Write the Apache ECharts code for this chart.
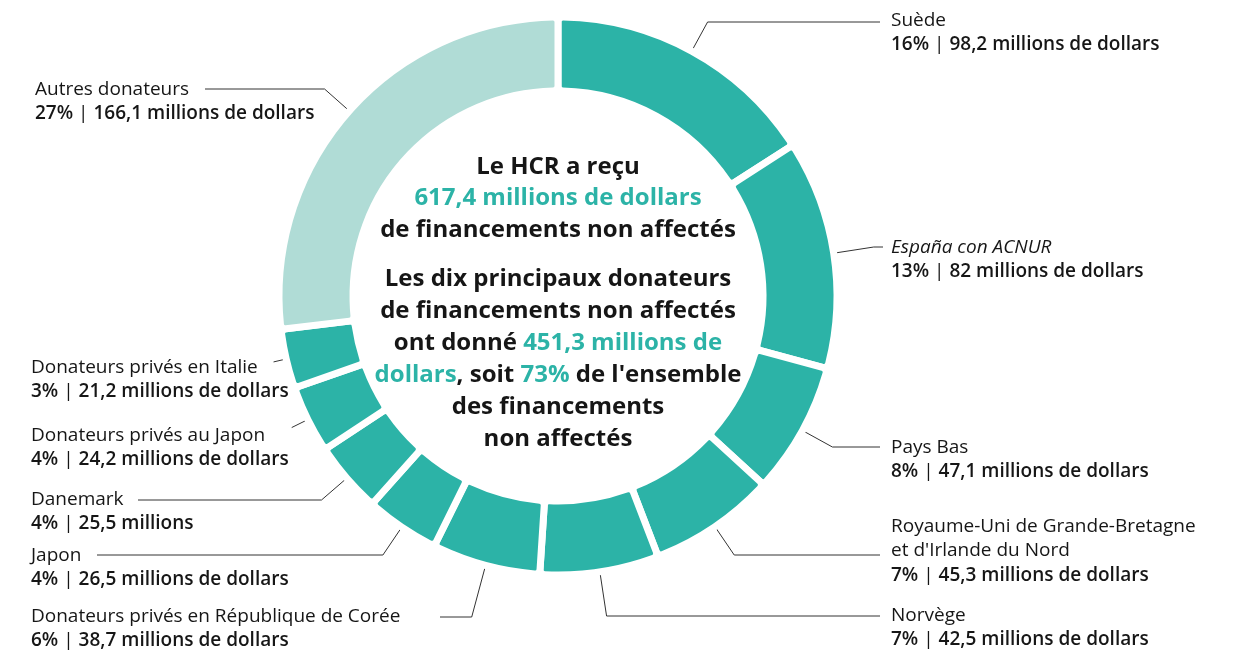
<!DOCTYPE html>
<html>
<head>
<meta charset="utf-8">
<script src="https://cdn.jsdelivr.net/npm/echarts@6/dist/echarts.min.js"></script>
<style>
  html, body { margin: 0; padding: 0; background: #fff; }
  #chart { width: 1256px; height: 651px; }
</style>
</head>
<body>
<div id="chart"></div>
<script>
// donors, clockwise from the top
const donors = [
  'Suède',
  'España con ACNUR',
  'Pays Bas',
  'Royaume-Uni de Grande-Bretagne\net d\'Irlande du Nord',
  'Norvège',
  'Donateurs privés en République de Corée',
  'Japon',
  'Danemark',
  'Donateurs privés au Japon',
  'Donateurs privés en Italie',
  'Autres donateurs'
]
// millions de dollars
const amounts = [98.2, 82, 47.1, 45.3, 42.5, 38.7, 26.5, 25.5, 24.2, 21.2, 166.1]
const shares = [16, 13, 8, 7, 7, 6, 4, 4, 4, 3, 27]
const units = [
  'millions de dollars', 'millions de dollars', 'millions de dollars', 'millions de dollars',
  'millions de dollars', 'millions de dollars', 'millions de dollars', 'millions',
  'millions de dollars', 'millions de dollars', 'millions de dollars'
]
const italicNames = ['España con ACNUR']

// label placement: [text left, text top, elbow y (null = short tick), line end x / tick length]
const labelSpots = [
  [891, 8, 22, 880],
  [891, 235, 247, 883],
  [891, 435, 447, 880],
  [891, 514, 555, 880],
  [891, 603, 616, 880],
  [31, 604, 617, 440],
  [31, 543, 555, 97],
  [31, 487, 500, 138],
  [31, 423, null, 18],
  [31, 355, null, 13],
  [35, 77, 89, 205]
]

const TEAL = '#2cb3a7'
const LIGHT = '#b0dcd6'
const INK = '#161616'
const FONT = '"Open Sans"'

const fmt = v => String(v).replace('.', ',')

const chart = echarts.init(document.getElementById('chart'))

const centreStyle = (lh) => ({
  k: { fontFamily: FONT, fontSize: 24, fontWeight: 'bold', fill: INK, lineHeight: lh },
  t: { fontFamily: FONT, fontSize: 24, fontWeight: 'bold', fill: TEAL, lineHeight: lh }
})

chart.setOption({
  animation: false,
  graphic: [
    {
      type: 'text',
      x: 558,
      y: 151,
      style: {
        text: '{k|Le HCR a reçu}\n{t|617,4 millions de dollars}\n{k|de financements non affectés}',
        align: 'center',
        rich: centreStyle(31.5)
      }
    },
    {
      type: 'text',
      x: 558,
      y: 263,
      style: {
        text: '{k|Les dix principaux donateurs}\n{k|de financements non affectés}\n' +
          '{k|ont donné }{t|451,3 millions de}\n{t|dollars}{k|, soit }{t|73%}{k| de l\'ensemble}\n' +
          '{k|des financements}\n{k|non affectés}',
        align: 'center',
        rich: centreStyle(32)
      }
    }
  ],
  series: [
    {
      type: 'pie',
      center: [558, 296],
      radius: [205, 279],
      startAngle: 90,
      clockwise: true,
      avoidLabelOverlap: false,
      itemStyle: {
        color: TEAL,
        borderColor: '#fff',
        borderWidth: 7,
        borderRadius: 5
      },
      emphasis: { disabled: true },
      label: {
        show: true,
        position: 'outside',
        formatter: p => {
          const i = p.dataIndex
          const tag = italicNames.includes(donors[i]) ? 'ni' : 'n'
          const nameLines = donors[i].split('\n').map(l => '{' + tag + '|' + l + '}').join('\n')
          return nameLines + '\n{b|' + shares[i] + '%}{s| | }{b|' + fmt(amounts[i]) + ' ' + units[i] + '}'
        },
        rich: {
          n: { fontFamily: FONT, fontSize: 19, color: INK, lineHeight: 24.5 },
          ni: { fontFamily: FONT, fontSize: 19, fontStyle: 'italic', color: INK, lineHeight: 24.5 },
          b: { fontFamily: FONT, fontSize: 19, fontWeight: 600, color: INK, lineHeight: 24.5 },
          s: { fontFamily: FONT, fontSize: 19, color: INK, lineHeight: 24.5 }
        }
      },
      labelLine: {
        show: true,
        length: 10,
        length2: 10,
        lineStyle: { color: '#333', width: 1 }
      },
      labelLayout: p => {
        const s = labelSpots[p.dataIndex]
        const a = p.labelLinePoints[0]
        const b = p.labelLinePoints[1]
        const d = Math.hypot(b[0] - a[0], b[1] - a[1])
        const ux = (b[0] - a[0]) / d
        const uy = (b[1] - a[1]) / d
        let pts
        if (s[2] == null) {
          const e = [a[0] + ux * s[3], a[1] + uy * s[3]]
          pts = [a, e, e]
        } else {
          const t = (s[2] - a[1]) / uy
          pts = [a, [a[0] + ux * t, s[2]], [s[3], s[2]]]
        }
        return { x: s[0], y: s[1], align: 'left', verticalAlign: 'top', labelLinePoints: pts }
      },
      data: donors.map((name, i) => ({
        name: name,
        value: amounts[i],
        itemStyle: i === donors.length - 1 ? { color: LIGHT } : undefined
      }))
    }
  ]
})
</script>
</body>
</html>
